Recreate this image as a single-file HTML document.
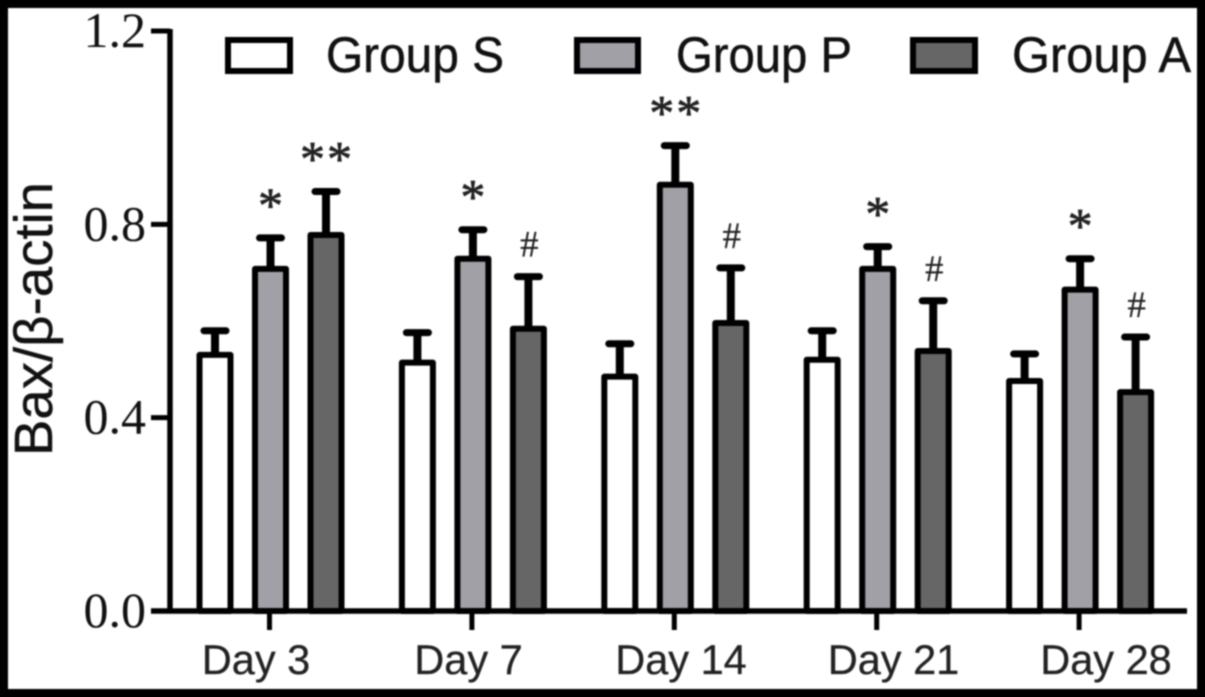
<!DOCTYPE html>
<html lang="en">
<head>
<meta charset="utf-8">
<title>Bax/β-actin by group and day</title>
<style>
html,body{margin:0;padding:0;background:#000;width:1205px;height:697px;overflow:hidden}
svg{display:block;filter:blur(.7px)}
</style>
</head>
<body>
<svg id="chart" xmlns="http://www.w3.org/2000/svg" width="1205" height="697" viewBox="0 0 1205 697">
<rect x="0" y="0" width="1205" height="697" fill="#000"/>
<rect x="8" y="8" width="1189" height="681" fill="#fff"/>
<text transform="translate(52,319) rotate(-90)" text-anchor="middle" font-family="'Liberation Sans',sans-serif" font-size="54" fill="#111" stroke="#111" stroke-width=".4" textLength="274" lengthAdjust="spacingAndGlyphs">Bax/β-actin</text>
<g font-family="'Liberation Sans',sans-serif" font-size="50" fill="#111" stroke-width=".5">
<rect x="228" y="40" width="62" height="31" fill="#fff" stroke="#000" stroke-width="6"/>
<text x="326" y="72" stroke="#111" textLength="178" lengthAdjust="spacingAndGlyphs">Group S</text>
<rect x="577" y="40" width="61" height="31" fill="#a0a0a6" stroke="#000" stroke-width="6"/>
<text x="676" y="72" stroke="#111" textLength="176" lengthAdjust="spacingAndGlyphs">Group P</text>
<rect x="913" y="40" width="62" height="31" fill="#666" stroke="#000" stroke-width="6"/>
<text x="1012" y="72" stroke="#111" textLength="179" lengthAdjust="spacingAndGlyphs">Group A</text>
</g>
<g id="marks"></g>
<g id="axes"></g>
</svg>
<script>
const categories = ['Day 3', 'Day 7', 'Day 14', 'Day 21', 'Day 28'];
const seriesNames = ['Group S', 'Group P', 'Group A'];
const groupS = [0.532, 0.516, 0.487, 0.522, 0.478];
const groupP = [0.710, 0.731, 0.884, 0.710, 0.667];
const groupA = [0.780, 0.586, 0.598, 0.540, 0.455];
const errorS = [0.050, 0.062, 0.068, 0.060, 0.056];
const errorP = [0.064, 0.060, 0.081, 0.046, 0.064];
const errorA = [0.090, 0.108, 0.114, 0.104, 0.114];
const markP = ['*', '*', '**', '*', '*'];
const markA = ['**', '#', '#', '#', '#'];
const yTicks = [0, 0.4, 0.8, 1.2];
const yTickLabels = ['0.0', '0.4', '0.8', '1.2'];

const NS = 'http://www.w3.org/2000/svg';
const marks = document.getElementById('marks');
const axes = document.getElementById('axes');
const fills = ['#fff', '#a0a0a6', '#666'];
const values = [groupS, groupP, groupA];
const errors = [errorS, errorP, errorA];
const annotations = [null, markP, markA];

function y(v) { return 611 - v * 483.3; }
function groupX(i) { return 215 + i * 202.4; }
function barX(i, s) { return groupX(i) + s * 55.5; }
function labelX(i) { return 256 + i * 212.5; }
function slug(t) { return t.toLowerCase().replace(/\s+/g, '-'); }
function make(tag, attrs, parent, text) {
  const el = document.createElementNS(NS, tag);
  for (const k in attrs) el.setAttribute(k, attrs[k]);
  if (text !== undefined) el.textContent = text;
  parent.appendChild(el);
  return el;
}

categories.forEach((cat, i) => {
  values.forEach((series, s) => {
    const cx = barX(i, s);
    const top = y(series[i]) + 1;
    const errTop = y(series[i] + errors[s][i]) + 1;
    const id = slug(seriesNames[s]) + '-' + slug(cat);

    const stem = make('line', {x1: cx, x2: cx, y1: top, y2: errTop, stroke: '#000', 'stroke-width': 8}, marks);
    
    

    const cap = make('line', {x1: cx - 11, x2: cx + 11, y1: errTop, y2: errTop, stroke: '#000', 'stroke-width': 7, 'stroke-linecap': 'round'}, marks);
    
    

    const bar = make('rect', {x: cx - 15.5, y: top, width: 31, height: 611 - top, fill: fills[s], stroke: '#000', 'stroke-width': 6, 'stroke-linejoin': 'round'}, marks);
    
    

    const labels = annotations[s];
    if (labels) {
      const sym = labels[i];
      const isHash = sym === '#';
      const note = make('text', {
        x: cx + 1,
        y: isHash ? errTop - 20 : errTop - 16,
        'text-anchor': 'middle',
        'font-family': "'Liberation Serif',serif",
        'font-size': isHash ? 37 : 50,
        'letter-spacing': isHash ? 0 : 2,
        fill: '#222',
        stroke: '#222',
        'stroke-width': isHash ? 0.2 : 0.7
      }, marks, sym);
      
      
    }
  });
});

const yLine = make('line', {x1: 170, x2: 170, y1: 29, y2: 613, stroke: '#000', 'stroke-width': 5.5}, axes);



const xLine = make('line', {x1: 151, x2: 1187, y1: 611, y2: 611, stroke: '#000', 'stroke-width': 5.5}, axes);



yTicks.forEach((t, i) => {
  const tick = make('line', {x1: 151, x2: 170, y1: y(t), y2: y(t), stroke: '#000', 'stroke-width': 5}, axes);
  
  

  const label = make('text', {x: 146, y: y(t) + 16, 'text-anchor': 'end', 'font-family': "'Liberation Serif',serif", 'font-size': 50, fill: '#111'}, axes, yTickLabels[i]);
  
  
});

categories.forEach((cat, i) => {
  const tx = barX(i, 1) - 1;
  const tick = make('line', {x1: tx, x2: tx, y1: 611, y2: 630, stroke: '#000', 'stroke-width': 5}, axes);
  
  

  const label = make('text', {x: labelX(i), y: 674, 'text-anchor': 'middle', 'font-family': "'Liberation Sans',sans-serif", 'font-size': 41.5, fill: '#222', stroke: '#222', 'stroke-width': 0.3}, axes, cat);
  
  
});
</script>
</body>
</html>
